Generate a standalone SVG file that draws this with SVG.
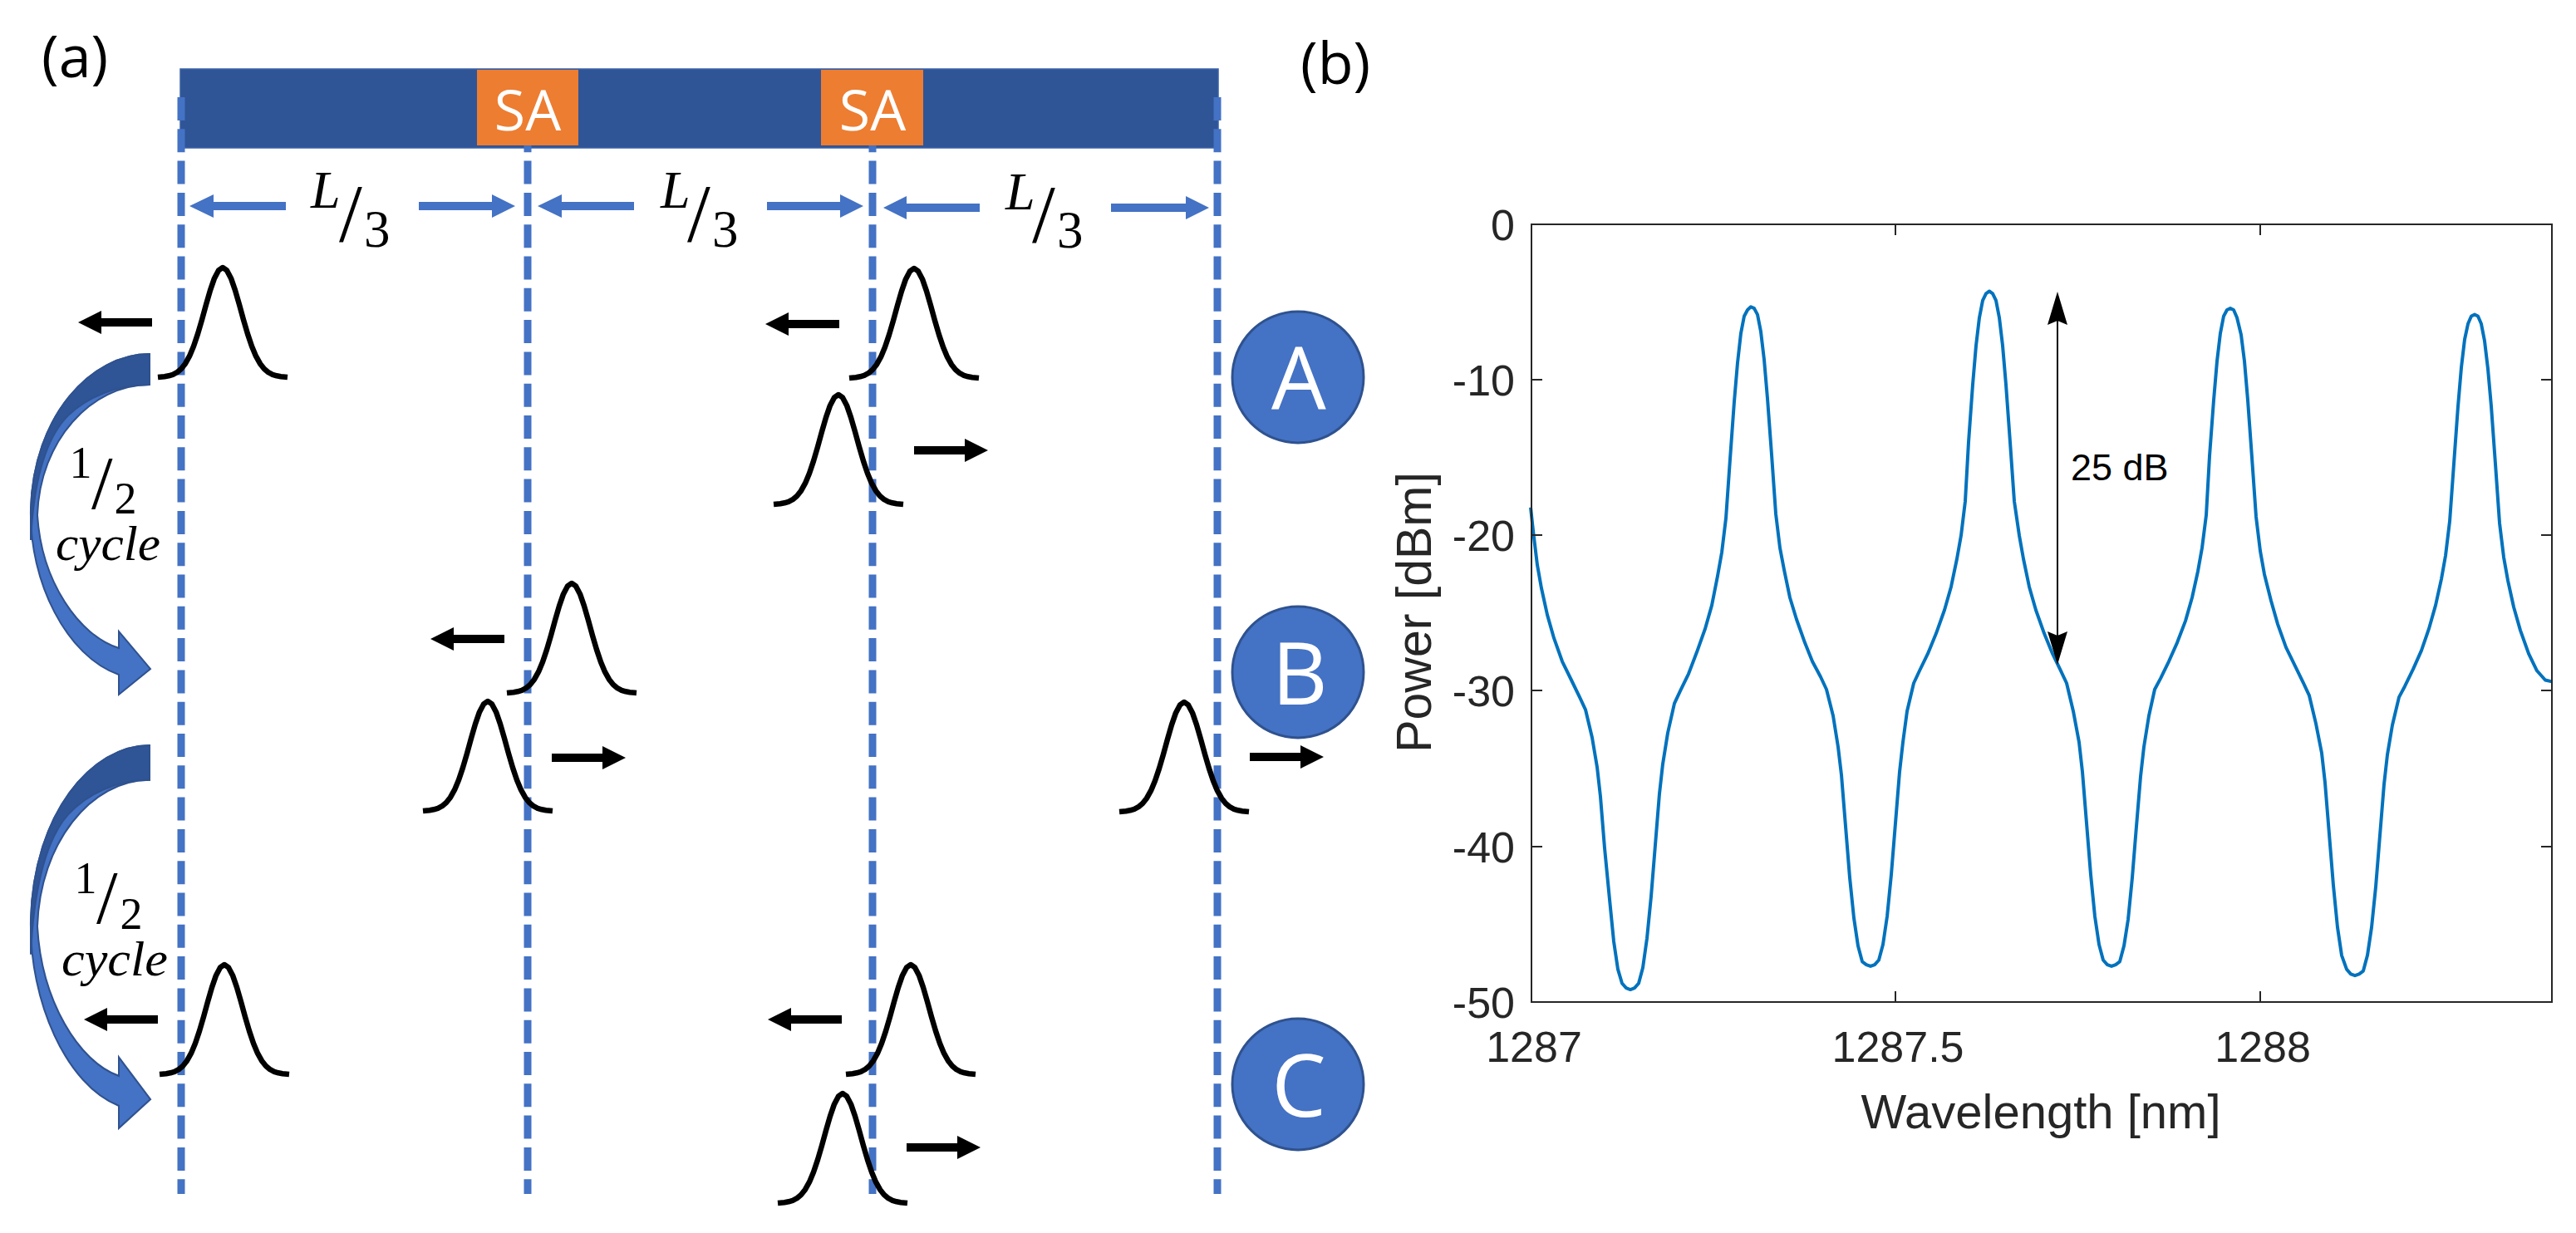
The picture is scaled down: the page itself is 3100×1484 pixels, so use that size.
<svg xmlns="http://www.w3.org/2000/svg" xmlns:xlink="http://www.w3.org/1999/xlink" width="3100" height="1484" viewBox="0 0 3100 1484">
<style>
.dash{fill:none;stroke:#4472C4;stroke-width:9;stroke-dasharray:28 10.3}
.pulse{fill:none;stroke:#000;stroke-width:6.5;stroke-linejoin:round}
.lbl{font-family:"Open Sans","Liberation Sans",sans-serif}
.math{font-family:"Liberation Serif","DejaVu Serif",serif;fill:#000}
.ax{font-family:"Liberation Sans",Arial,sans-serif;fill:#262626}
.circ{fill:#4472C4;stroke:#2F528F;stroke-width:3}
.white{fill:#fff}
.blue{fill:#4472C4}
.tick{stroke:#262626;stroke-width:2;fill:none}
</style>
<defs>
<path id="pulse" class="pulse" d="M-78,132 L-70,131.2 L-65,130.3 L-60,128.8 L-55,126.2 L-50,122 L-45,115.7 L-40,106.7 L-35,94.8 L-30,79.9 L-25,62.8 L-20,44.7 L-15,27.4 L-10,12.9 L-5,3.4 L0,0 L5,3.4 L10,12.9 L15,27.4 L20,44.7 L25,62.8 L30,79.9 L35,94.8 L40,106.7 L45,115.7 L50,122 L55,126.2 L60,128.8 L65,130.3 L70,131.2 L78,132"/>
<path id="larr" d="M0,0 L28,-14 L28,-5 L89,-5 L89,5 L28,5 L28,14 Z" fill="#000"/>
<g id="carr">
<path d="M180,426 C110,426 40,500 37,613 C35,700 80,790 143,812 L143,836 L181,805 L143,760 L143,780 C95,765 50,700 45,620 C48,530 110,463 180,463 Z" fill="#4472C4" stroke="#2F528F" stroke-width="2"/>
<path d="M180,426 C110,426 40,500 37,613 L37,650 C40,590 52,530 82,500 C105,478 140,463 180,463 Z" fill="#2F5597" stroke="#2F528F" stroke-width="2"/>
</g>
</defs>
<rect width="3100" height="1484" fill="#fff"/>

<!-- panel (a) -->
<text class="lbl" x="50" y="93" font-size="70" fill="#000">(a)</text>
<g id="bar"><rect x="217" y="83" width="1249" height="95" fill="#2F5597" stroke="#3B62A6" stroke-width="1.5"/></g>
<g id="guides">
<line class="dash" x1="218" y1="117" x2="218" y2="1437"/>
<line class="dash" x1="635" y1="117" x2="635" y2="1437"/>
<line class="dash" x1="1050" y1="117" x2="1050" y2="1437"/>
<line class="dash" x1="1465" y1="117" x2="1465" y2="1437"/>
</g>
<g id="sa1"><rect x="574" y="84" width="122" height="91" fill="#ED7D31"/><text class="lbl white" x="635" y="157" font-size="68" text-anchor="middle">SA</text></g>
<g id="sa2"><rect x="988" y="84" width="123" height="91" fill="#ED7D31"/><text class="lbl white" x="1050" y="157" font-size="68" text-anchor="middle">SA</text></g>

<g id="dimensions">
<path class="blue" d="M228,248 L257,234 L257,243 L344,243 L344,253 L257,253 L257,262 Z"/>
<path class="blue" d="M620,248 L592,234 L592,243 L504,243 L504,253 L592,253 L592,262 Z"/>
<path class="blue" d="M647,248 L676,234 L676,243 L763,243 L763,253 L676,253 L676,262 Z"/>
<path class="blue" d="M1039,248 L1011,234 L1011,243 L923,243 L923,253 L1011,253 L1011,262 Z"/>
<path class="blue" d="M1063,250 L1091,236 L1091,245 L1179,245 L1179,255 L1091,255 L1091,264 Z"/>
<path class="blue" d="M1455,250 L1427,236 L1427,245 L1337,245 L1337,255 L1427,255 L1427,264 Z"/>
<text class="math" x="374" y="250" font-size="64" font-style="italic">L</text>
<text class="math" x="408" y="290" font-size="100">/</text>
<text class="math" x="438" y="297" font-size="63">3</text>
<text class="math" x="795" y="250" font-size="64" font-style="italic">L</text>
<text class="math" x="827" y="290" font-size="100">/</text>
<text class="math" x="857" y="297" font-size="63">3</text>
<text class="math" x="1210" y="252" font-size="64" font-style="italic">L</text>
<text class="math" x="1242" y="291" font-size="100">/</text>
<text class="math" x="1272" y="298" font-size="63">3</text>
</g>

<g id="pulses">
<use xlink:href="#pulse" transform="translate(268,322)"/>
<use xlink:href="#pulse" transform="translate(1100,323)"/>
<use xlink:href="#pulse" transform="translate(1009,475)"/>
<use xlink:href="#pulse" transform="translate(688,702)"/>
<use xlink:href="#pulse" transform="translate(587,844)"/>
<use xlink:href="#pulse" transform="translate(1425,845)"/>
<use xlink:href="#pulse" transform="translate(270,1161)"/>
<use xlink:href="#pulse" transform="translate(1096,1161)"/>
<use xlink:href="#pulse" transform="translate(1014,1316)"/>
</g>

<g id="connectors">
<use xlink:href="#larr" transform="translate(94,388)"/>
<use xlink:href="#larr" transform="translate(921,390)"/>
<use xlink:href="#larr" transform="translate(1189,542) scale(-1,1)"/>
<use xlink:href="#larr" transform="translate(518,769)"/>
<use xlink:href="#larr" transform="translate(753,912) scale(-1,1)"/>
<use xlink:href="#larr" transform="translate(1593,911) scale(-1,1)"/>
<use xlink:href="#larr" transform="translate(101,1227)"/>
<use xlink:href="#larr" transform="translate(924,1227)"/>
<use xlink:href="#larr" transform="translate(1180,1381) scale(-1,1)"/>
<use xlink:href="#carr"/>
<use xlink:href="#carr" transform="translate(0,897) scale(1,1.124) translate(0,-426)"/>
</g>

<g id="half-cycle-1">
<text class="math" x="97" y="575" font-size="54" text-anchor="middle">1</text>
<text class="math" x="110" y="612" font-size="92">/</text>
<text class="math" x="151" y="618" font-size="54" text-anchor="middle">2</text>
<text class="math" x="67" y="674" font-size="60" font-style="italic" textLength="126" lengthAdjust="spacingAndGlyphs">cycle</text>
</g>
<g id="half-cycle-2">
<text class="math" x="103" y="1075" font-size="54" text-anchor="middle">1</text>
<text class="math" x="116" y="1111" font-size="92">/</text>
<text class="math" x="158" y="1118" font-size="54" text-anchor="middle">2</text>
<text class="math" x="74" y="1174" font-size="60" font-style="italic" textLength="128" lengthAdjust="spacingAndGlyphs">cycle</text>
</g>

<g id="node-A"><circle class="circ" cx="1562" cy="454" r="79"/><text class="lbl white" x="1563" y="493" font-size="104" text-anchor="middle">A</text></g>
<g id="node-B"><circle class="circ" cx="1562" cy="809" r="79"/><text class="lbl white" x="1564" y="848" font-size="104" text-anchor="middle">B</text></g>
<g id="node-C"><circle class="circ" cx="1562" cy="1305" r="79"/><text class="lbl white" x="1563" y="1344" font-size="104" text-anchor="middle">C</text></g>

<!-- panel (b) -->
<text class="lbl" x="1565" y="101" font-size="70" fill="#000">(b)</text>
<g id="plot">
<path fill="none" stroke="#0072BD" stroke-width="4" stroke-linejoin="round" vector-effect="non-scaling-stroke" transform="translate(0,270) scale(1,18.72)" d="M1842,18.2 L1845,19.7 L1850,21.9 L1855,23.4 L1862,25.1 L1870,26.6 L1880,28.1 L1891,29.3 L1901,30.4 L1908,31.2 L1916,33 L1922,34.9 L1926,36.8 L1931,40.1 L1937,43.4 L1942,46.1 L1947,47.9 L1952,48.8 L1957,49.1 L1962,49.2 L1967,49.1 L1972,48.8 L1977,47.8 L1982,45.9 L1987,43.2 L1992,39.9 L1997,36.6 L2001,34.7 L2007,32.7 L2015,30.8 L2022,30 L2032,28.9 L2042,27.5 L2052,26 L2060,24.5 L2067,22.6 L2072,21.1 L2077,18.9 L2082,15.1 L2087,11.4 L2091,8.9 L2095,7 L2099,5.9 L2103,5.5 L2107,5.3 L2111,5.4 L2115,5.8 L2119,6.9 L2123,8.7 L2127,11.2 L2132,14.8 L2137,18.6 L2142,20.8 L2147,22.2 L2154,24 L2162,25.4 L2172,26.9 L2181,28.1 L2191,29.1 L2198,29.9 L2206,31.6 L2212,33.6 L2216,35.4 L2221,38.7 L2226,42 L2231,44.6 L2236,46.4 L2241,47.4 L2246,47.6 L2251,47.7 L2256,47.6 L2261,47.3 L2266,46.3 L2271,44.5 L2276,41.8 L2281,38.5 L2286,35.2 L2290,33.3 L2295,31.3 L2303,29.5 L2310,28.7 L2320,27.6 L2330,26.3 L2340,24.8 L2348,23.3 L2355,21.5 L2360,20 L2365,17.8 L2369,14 L2374,10.3 L2378,7.8 L2382,6 L2386,4.9 L2390,4.45 L2394,4.3 L2398,4.45 L2402,4.9 L2406,6 L2410,7.8 L2414,10.3 L2419,14 L2424,17.8 L2430,20 L2435,21.5 L2442,23.3 L2450,24.8 L2460,26.3 L2470,27.6 L2480,28.7 L2487,29.5 L2495,31.3 L2502,33.3 L2506,35.2 L2511,38.5 L2516,41.8 L2521,44.5 L2526,46.3 L2531,47.3 L2536,47.6 L2541,47.7 L2546,47.6 L2551,47.4 L2556,46.4 L2561,44.7 L2566,42 L2571,38.7 L2576,35.5 L2580,33.6 L2586,31.6 L2593,29.9 L2600,29.2 L2610,28.1 L2620,26.9 L2630,25.5 L2638,24 L2645,22.3 L2650,20.8 L2655,18.7 L2659,14.9 L2664,11.3 L2668,8.8 L2672,7 L2676,5.9 L2680,5.5 L2684,5.4 L2688,5.5 L2692,6 L2697,7.1 L2701,8.8 L2705,11.3 L2710,15 L2715,18.8 L2720,21 L2725,22.5 L2733,24.2 L2741,25.7 L2751,27.2 L2762,28.4 L2772,29.5 L2779,30.3 L2787,32.1 L2794,34 L2798,35.9 L2803,39.2 L2808,42.5 L2813,45.2 L2818,47 L2824,47.9 L2829,48.2 L2834,48.3 L2839,48.2 L2844,48 L2849,47 L2854,45.2 L2859,42.6 L2864,39.3 L2869,36 L2873,34.1 L2879,32.2 L2887,30.4 L2894,29.7 L2904,28.6 L2914,27.4 L2923,26 L2931,24.5 L2938,22.8 L2943,21.3 L2948,19.1 L2953,15.4 L2958,11.7 L2962,9.2 L2966,7.4 L2970,6.4 L2974,5.9 L2978,5.8 L2982,5.9 L2986,6.4 L2990,7.5 L2994,9.3 L2998,11.7 L3003,15.4 L3008,19.2 L3013,21.4 L3018,22.9 L3025,24.6 L3033,26.1 L3043,27.6 L3053,28.7 L3063,29.3 L3071,29.4"/>
<rect class="tick" x="1843" y="270" width="1228" height="936"/>
<path class="tick" d="M1843,457 h13 M1843,644 h13 M1843,831 h13 M1843,1019 h13 M3071,457 h-13 M3071,644 h-13 M3071,831 h-13 M3071,1019 h-13 M2281,270 v13 M2720,270 v13 M2281,1206 v-13 M2720,1206 v-13"/>
<g font-size="52" text-anchor="end">
<text class="ax" x="1823" y="289">0</text>
<text class="ax" x="1823" y="476">-10</text>
<text class="ax" x="1823" y="663">-20</text>
<text class="ax" x="1823" y="850">-30</text>
<text class="ax" x="1823" y="1038">-40</text>
<text class="ax" x="1823" y="1225">-50</text>
</g>
<g font-size="52" text-anchor="middle">
<text class="ax" x="1846" y="1278">1287</text>
<text class="ax" x="2284" y="1278">1287.5</text>
<text class="ax" x="2723" y="1278">1288</text>
</g>
<text class="ax" x="2456" y="1358" font-size="58" text-anchor="middle">Wavelength [nm]</text>
<text class="ax" transform="translate(1722,737) rotate(-90)" font-size="59" text-anchor="middle">Power [dBm]</text>
<g id="ratio-arrow">
<line x1="2476" y1="385" x2="2476" y2="766" stroke="#000" stroke-width="2"/>
<path d="M2476,351 L2464,391 L2476,386 L2488,391 Z" fill="#000"/>
<path d="M2476,800 L2464,760 L2476,765 L2488,760 Z" fill="#000"/>
<text x="2492" y="578" font-size="45" font-family="Liberation Sans, Arial, sans-serif" fill="#000">25 dB</text>
</g>
</g>
</svg>
